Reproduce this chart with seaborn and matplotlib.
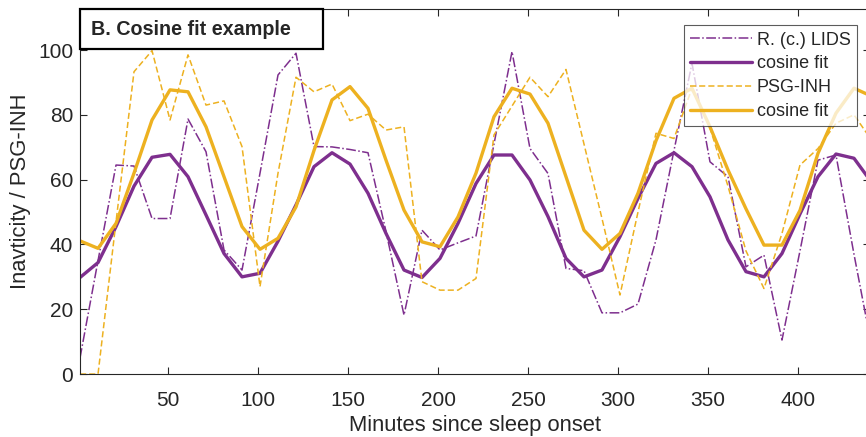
import matplotlib
matplotlib.use("Agg")
import matplotlib.pyplot as plt
from matplotlib.patches import Rectangle
import seaborn as sns
import pandas as pd

# minutes since sleep onset (10 min epochs)
minutes = [1, 11, 21, 31, 41, 51, 61, 71, 81, 91,
           101, 111, 121, 131, 141, 151, 161, 171, 181, 191,
           201, 211, 221, 231, 241, 251, 261, 271, 281, 291,
           301, 311, 321, 331, 341, 351, 361, 371, 381, 391,
           401, 411, 421, 431, 441]

lids = [5, 35, 64.5, 64.2, 48, 48, 78.7, 68.6, 38.3, 32.1,
        62, 92.3, 99, 70.2, 70.1, 69.3, 68.3, 44, 18.2, 44.4,
        38.3, 40.5, 42.6, 71, 99.5, 69.6, 61.9, 32.6, 31.9, 18.9,
        18.9, 21.6, 41.4, 69, 95.9, 65.5, 60.9, 33.1, 36.7, 10.5,
        38, 66, 67.6, 37, 8]

lids_fit = [29.8, 34.4, 45.5, 58, 66.9, 67.8, 60.9, 49.1, 37.2, 30.0,
            31.1, 41, 52.2, 64, 68.3, 64.8, 55.8, 43.4, 32.1, 29.8,
            35.7, 46.5, 58.8, 67.6, 67.6, 59.9, 48.6, 35.7, 30.0, 32.1,
            42.4, 54.2, 65, 68.3, 64, 54.7, 41.4, 31.6, 30.0, 37.2,
            49.4, 60.9, 67.9, 66.6, 59]

psg = [0, 0, 47, 93.3, 99.8, 78.4, 98.5, 83, 84.3, 70.2,
       27, 62, 91.6, 87.1, 89.5, 78.2, 80.2, 75.3, 76.3, 28.5,
       25.9, 25.9, 29.5, 73.8, 82.7, 91.6, 85.6, 94, 71, 48,
       24.4, 50, 74.3, 72.7, 88.2, 76, 58, 38, 26.4, 43.4,
       64.5, 69.6, 77.4, 80, 72]

psg_fit = [41.1, 38.8, 46.5, 62, 78.4, 87.7, 87.1, 76.3, 60.9, 45.5,
           38.5, 41.9, 51.6, 69, 84.6, 88.7, 82, 66, 50.6, 40.8,
           39.3, 48.5, 62, 79.4, 88.2, 86.4, 77.4, 60.9, 44.4, 38.5,
           43.4, 55.8, 72, 85.1, 88.2, 76.3, 63, 51, 39.8, 39.8,
           50.5, 68.1, 80.5, 88.2, 85.7]

purple = "#7E2F8E"
orange = "#EDB120"

df = pd.DataFrame({"minutes": minutes, "lids": lids, "lids_fit": lids_fit,
                   "psg": psg, "psg_fit": psg_fit})

sns.set_style("ticks")
plt.rcParams["font.family"] = ["Liberation Sans", "DejaVu Sans"]

fig = plt.figure(figsize=(8.66, 4.37), dpi=100)
ax = fig.add_axes([0.0924, 0.144, 0.912, 0.835])

sns.lineplot(data=df, x="minutes", y="lids", ax=ax, color=purple,
             linestyle="-.", linewidth=1.1, label="R. (c.) LIDS")
sns.lineplot(data=df, x="minutes", y="lids_fit", ax=ax, color=purple,
             linewidth=2.4, label="cosine fit")
sns.lineplot(data=df, x="minutes", y="psg", ax=ax, color=orange,
             linestyle=(0, (4, 2)), linewidth=1.1, label="PSG-INH")
sns.lineplot(data=df, x="minutes", y="psg_fit", ax=ax, color=orange,
             linewidth=2.4, label="cosine fit")

ax.set_xlim(1, 439.8)
ax.set_ylim(0, 112.6)
ax.set_xticks([50, 100, 150, 200, 250, 300, 350, 400])
ax.set_yticks([0, 20, 40, 60, 80, 100])

axis_col = "#262626"
for sp in ax.spines.values():
    sp.set_color(axis_col)
    sp.set_linewidth(0.8)
ax.tick_params(direction="in", top=True, right=True, length=5, width=0.8,
               color=axis_col, labelcolor=axis_col, labelsize=15)
ax.tick_params(axis="x", pad=12)
ax.tick_params(axis="y", pad=5)

ax.set_xlabel("Minutes since sleep onset", fontsize=15.8, color=axis_col, labelpad=4)
ax.set_ylabel("Inavticity / PSG-INH", fontsize=15.8, color=axis_col, labelpad=5)

leg = ax.legend(loc="upper right", bbox_to_anchor=(0.984, 0.956), fontsize=13,
                handlelength=3.4, handletextpad=0.3, labelspacing=0.38,
                borderpad=0.35, fancybox=False, framealpha=0.75,
                edgecolor=axis_col, borderaxespad=0)
leg.get_frame().set_linewidth(0.8)

# panel title box
ax.add_patch(Rectangle((0, 0.890), 0.3077, 0.110, transform=ax.transAxes,
                       facecolor="white", edgecolor="black", linewidth=1.6,
                       zorder=5, clip_on=False))
ax.text(0.0139, 0.945, "B. Cosine fit example", transform=ax.transAxes,
        ha="left", va="center", fontsize=14.2, fontweight="bold", zorder=6)

fig.savefig("out.png", dpi=100)
